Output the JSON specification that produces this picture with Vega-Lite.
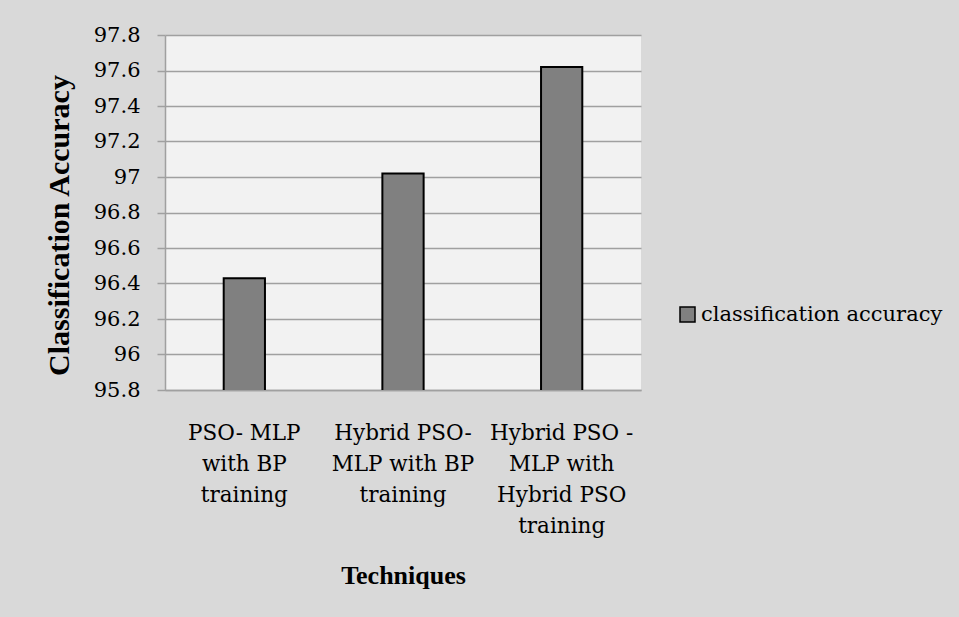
{
  "$schema": "https://vega.github.io/schema/vega-lite/v6.json",
  "width": 476,
  "height": 355,
  "autosize": {"type": "none"},
  "padding": {"left": 165, "top": 35, "right": 318, "bottom": 227},
  "background": "#d9d9d9",
  "config": {
    "view": {"fill": "#f2f2f2", "stroke": null}
  },
  "data": {
    "values": [
      {"technique": "PSO- MLP with BP training", "accuracy": 96.43, "series": "classification accuracy"},
      {"technique": "Hybrid PSO- MLP with BP training", "accuracy": 97.02, "series": "classification accuracy"},
      {"technique": "Hybrid PSO - MLP with Hybrid PSO training", "accuracy": 97.62, "series": "classification accuracy"}
    ]
  },
  "mark": {
    "type": "bar",
    "clip": true,
    "stroke": "#000000",
    "strokeWidth": 2,
    "width": {"band": 0.26}
  },
  "encoding": {
    "x": {
      "field": "technique",
      "type": "nominal",
      "sort": null,
      "scale": {"paddingInner": 0, "paddingOuter": 0},
      "axis": {
        "title": "Techniques",
        "titleFont": "Liberation Serif",
        "titleFontSize": 26,
        "titleFontWeight": "bold",
        "titleColor": "#000000",
        "titleBaseline": "alphabetic",
        "titleX": 238,
        "titleY": 193,
        "labelAngle": 0,
        "labelAlign": "center",
        "labelBaseline": "top",
        "labelFont": "DejaVu Serif",
        "labelFontSize": 21.5,
        "labelColor": "#000000",
        "labelLineHeight": 31,
        "labelPadding": 32,
        "labelLimit": 300,
        "labelExpr": "datum.value == 'PSO- MLP with BP training' ? ['PSO- MLP', 'with BP', 'training'] : datum.value == 'Hybrid PSO- MLP with BP training' ? ['Hybrid PSO-', 'MLP with BP', 'training'] : ['Hybrid PSO -', 'MLP with', 'Hybrid PSO', 'training']",
        "ticks": false,
        "tickSize": 0,
        "domainColor": "#a0a0a0",
        "domainWidth": 1.5,
        "grid": false
      }
    },
    "y": {
      "field": "accuracy",
      "type": "quantitative",
      "scale": {"domain": [95.8, 97.8], "zero": false, "nice": false},
      "axis": {
        "title": "Classification Accuracy",
        "titleFont": "Liberation Serif",
        "titleFontSize": 30,
        "titleFontWeight": "bold",
        "titleColor": "#000000",
        "titleAngle": -90,
        "titleAlign": "center",
        "titleBaseline": "alphabetic",
        "titleX": -97,
        "titleY": 190,
        "values": [95.8, 96, 96.2, 96.4, 96.6, 96.8, 97, 97.2, 97.4, 97.6, 97.8],
        "format": ".1~f",
        "labelFont": "DejaVu Serif",
        "labelFontSize": 21,
        "labelColor": "#000000",
        "labelPadding": 17,
        "labelDy": 2,
        "tickSize": 8,
        "tickColor": "#a0a0a0",
        "tickWidth": 1.5,
        "domainColor": "#a0a0a0",
        "domainWidth": 1.5,
        "gridColor": "#a0a0a0",
        "gridWidth": 1.5
      }
    },
    "color": {
      "field": "series",
      "type": "nominal",
      "scale": {"range": ["#808080"]},
      "legend": {
        "title": null,
        "orient": "none",
        "legendX": 512,
        "legendY": 269,
        "padding": 0,
        "symbolType": "square",
        "symbolSize": 225,
        "symbolStrokeColor": "#000000",
        "symbolStrokeWidth": 1.5,
        "labelFont": "DejaVu Serif",
        "labelFontSize": 21,
        "labelColor": "#000000",
        "labelOffset": 3,
        "labelLimit": 400
      }
    }
  }
}
